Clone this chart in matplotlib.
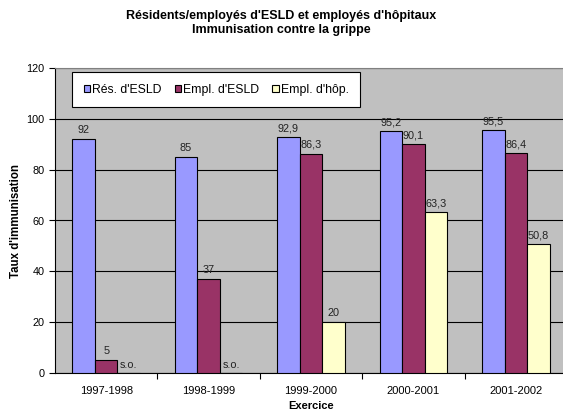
import matplotlib.pyplot as plt
import numpy as np

plt.rcParams['font.family'] = ['Liberation Sans', 'DejaVu Sans']

exercices = ['1997-1998', '1998-1999', '1999-2000', '2000-2001', '2001-2002']
res_esld = [92, 85, 92.9, 95.2, 95.5]
empl_esld = [5, 37, 86.3, 90.1, 86.4]
empl_hop = [None, None, 20, 63.3, 50.8]
series = ["Rés. d'ESLD", "Empl. d'ESLD", "Empl. d'hôp."]
colors = ['#9999FF', '#993366', '#FFFFCC']

fig = plt.figure(figsize=(5.63, 4.11), dpi=100)
ax = fig.add_axes([55 / 563, 38 / 411, 512 / 563, 305 / 411])
ax.set_facecolor('#C0C0C0')

x = np.arange(len(exercices))
w = 0.22
for i, (vals, c, name) in enumerate(zip([res_esld, empl_esld, empl_hop], colors, series)):
    pos = x + (i - 1) * w
    h = [v if v is not None else 0 for v in vals]
    ax.bar(pos, h, w, color=c, edgecolor='black', linewidth=0.8, label=name, zorder=3)
    for p, v in zip(pos, vals):
        if v is None:
            # no data for that year: "sans objet"
            ax.text(p, 1.2, 's.o.', ha='center', va='bottom', fontsize=7.8, color='#222222', zorder=4)
        else:
            txt = ('%g' % v).replace('.', ',')
            ax.text(p, v + 1.5, txt, ha='center', va='bottom', fontsize=7.8, color='#222222', zorder=4)

ax.set_xlim(-0.5, len(exercices) - 0.5)
ax.set_ylim(0, 120)
ax.set_yticks(range(0, 121, 20))
ax.yaxis.grid(True, color='black', linewidth=0.8, zorder=0)
ax.set_axisbelow(True)

ax.set_xticks(x)
ax.set_xticklabels(exercices)
ax.set_xticks(np.arange(0.5, len(exercices) - 0.5, 1), minor=True)
ax.tick_params(axis='x', which='major', length=0, labelsize=8, pad=9)
ax.tick_params(axis='x', which='minor', length=4, width=0.8, direction='out')
ax.tick_params(axis='y', length=4, width=0.8, labelsize=7.8, direction='out')

for s in ['left', 'bottom']:
    ax.spines[s].set_color('black')
    ax.spines[s].set_linewidth(0.8)
ax.spines['top'].set_color('#808080')
ax.spines['right'].set_color('#808080')

ax.set_ylabel("Taux d'immunisation", fontsize=8.3, fontweight='bold', labelpad=3)
ax.set_xlabel('Exercice', fontsize=8, fontweight='bold', labelpad=4)

fig.suptitle("Résidents/employés d'ESLD et employés d'hôpitaux\nImmunisation contre la grippe",
             fontsize=9, fontweight='bold', y=0.975, linespacing=1.2)

leg = ax.legend(loc='upper left', bbox_to_anchor=(17 / 512, 1 - 4 / 305), ncol=3,
                fontsize=8.8, frameon=True, fancybox=False, framealpha=1,
                edgecolor='black', handlelength=0.55, handleheight=0.55,
                handletextpad=0.15, columnspacing=1.05, borderpad=0.95, borderaxespad=0)
leg.get_frame().set_linewidth(0.8)

fig.savefig('out.png', dpi=100)
